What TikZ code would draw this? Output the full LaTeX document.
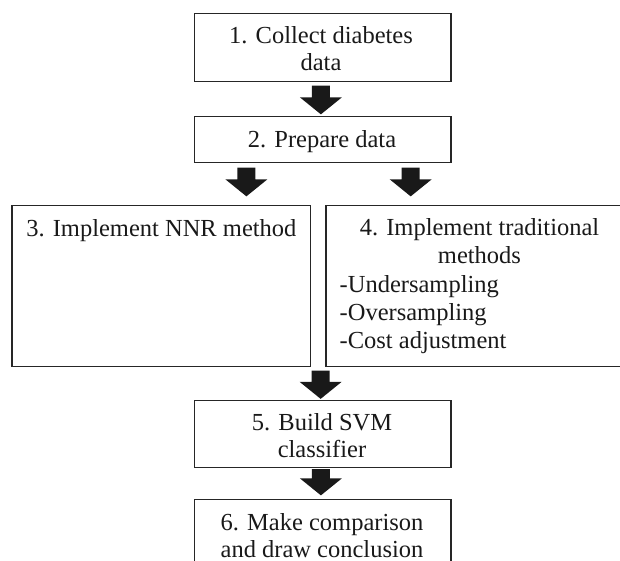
\documentclass[tikz,border=0pt]{standalone}
\usepackage{fontspec}
\setmainfont{Liberation Serif}
\usetikzlibrary{calc}
\tikzset{
  box/.style={draw=black!85, line width=1.3pt, inner sep=0pt},
  lbl/.style={font=\fontsize{24.5}{28.3}\selectfont, inner sep=0pt, text=black!90, anchor=base},
  arrowfill/.style={fill=black!90},
}
\newcommand\barrow[2]{\fill[arrowfill] let \p1=(#1), \p2=(#2) in
  (\x1-9pt,\y1) -- (\x1+9pt,\y1) -- (\x1+9pt,\y2+17pt) -- (\x1+21pt,\y2+17pt)
  -- (\x1,\y2) -- (\x1-21pt,\y2+17pt) -- (\x1-9pt,\y2+17pt) -- cycle;}
\begin{document}
\begin{tikzpicture}[x=1pt,y=-1pt]
\useasboundingbox (0,0) rectangle (620,561);
\clip (0,0) rectangle (620,561);
% boxes
\node[box, minimum width=256.3pt, minimum height=68.4pt] (b1) at (322.9,47.5) {};
\node[box, minimum width=256.3pt, minimum height=45.6pt] (b2) at (322.9,139.5) {};
\node[box, minimum width=298.7pt, minimum height=161.2pt] (b3) at (161.35,286.1) {};
\node[box, minimum width=307pt, minimum height=161.2pt] (b4) at (479.5,286.1) {};
\node[box, minimum width=256.3pt, minimum height=67pt] (b5) at (322.9,434.2) {};
\node[box, minimum width=256.3pt, minimum height=80.7pt] (b6) at (322.9,539.65) {};
% texts
\node[lbl] (t1a) at (321,43.3) {1. Collect diabetes};
\node[lbl] (t1b) at (321,71) {data};
\node[lbl] (t2) at (322,147.7) {2. Prepare data};
\node[lbl] (t3) at (161.35,236.7) {3. Implement NNR method};
\node[lbl] (t4a) at (479.5,235.5) {4. Implement traditional};
\node[lbl] (t4b) at (479.5,263.8) {methods};
\node[lbl, anchor=base west] (t4c) at (339.5,292.1) {-Undersampling};
\node[lbl, anchor=base west] (t4d) at (339.5,320.4) {-Oversampling};
\node[lbl, anchor=base west] (t4e) at (339.5,348.7) {-Cost adjustment};
\node[lbl] (t5a) at (322,430) {5. Build SVM};
\node[lbl] (t5b) at (322,457.3) {classifier};
\node[lbl] (t6a) at (322,530) {6. Make comparison};
\node[lbl] (t6b) at (322,557) {and draw conclusion};
% arrow end points
\coordinate (a1s) at ($(b1.south)+(-2,3.3)$);
\coordinate (a1e) at ($(b2.north)+(0,-1.7)$);
\coordinate (a2s) at ($(b2.south west)+(52.3,4.7)$);
\coordinate (a2e) at ($(b3.north)+(0,-8.5)$);
\coordinate (a3s) at ($(b2.south east)+(-41,4.7)$);
\coordinate (a3e) at ($(b4.north)+(0,-8.5)$);
\coordinate (a4s) at ($(b3.south east)+(9.3,3.3)$);
\coordinate (a4e) at ($(b5.north)+(0,-1.2)$);
\coordinate (a5s) at ($(b5.south)+(-2,0.8)$);
\coordinate (a5e) at ($(b6.north)+(0,-3.3)$);
% block arrows
\barrow{a1s}{a1e}
\barrow{a2s}{a2e}
\barrow{a3s}{a3e}
\barrow{a4s}{a4e}
\barrow{a5s}{a5e}
\end{tikzpicture}
\end{document}
